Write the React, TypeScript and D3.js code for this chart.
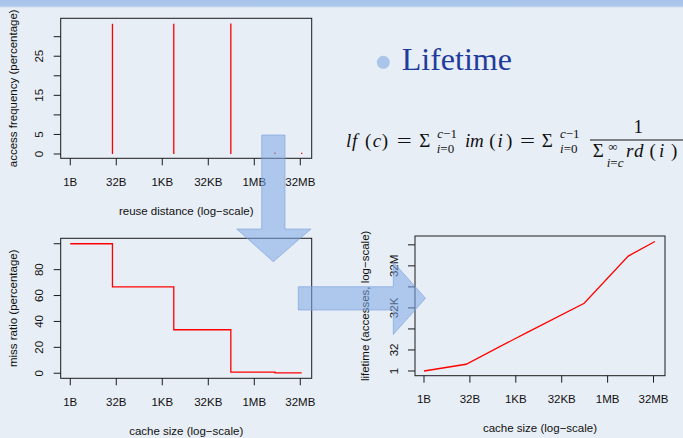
import React from "react";
import * as d3 from "d3";

// ---------- data ----------
const sizeTicks = [1, 32, 1024, 32768, 1048576, 33554432];
const sizeTickLabels = ["1B", "32B", "1KB", "32KB", "1MB", "32MB"];

const reuseDistances = [24, 2435, 179000, 4980000, 37300000];
const accessFreq = [33.3, 33.3, 33.4, 0.4, 0.3];
const freqTicks = [0, 5, 10, 15, 20, 25, 30];
const freqTickLabels = ["0", "5", "", "15", "", "25", ""];

const cacheSizes = [1, 24, 2435, 179000, 4980000, 37300000];
const missRatio = [100, 66.7, 33.6, 0.8, 0.3, 0.3];
const missTicks = [0, 20, 40, 60, 80, 100];
const missTickLabels = ["0", "20", "40", "60", "80", ""];

const lifetime = [1, 3.03, 588, 70200, 1.68e8, 1.87e9];
const lifeTicks = [1, 32, 1024, 32768, 1048576, 33554432, 1073741824];
const lifeTickLabels = ["1", "32", "", "32K", "", "32M", ""];

// ---------- style ----------
const BG = "#e8eef6";
const AXIS_FONT = "'Liberation Sans', Arial, Helvetica, sans-serif";
const SERIF = "'Liberation Serif', 'Times New Roman', serif";
const FS = 11.5;

type Box = { l: number; t: number; r: number; b: number };

function Panel(props: {
  box: Box;
  x: d3.ScaleLogarithmic<number, number>;
  y: any;
  yTicks: number[];
  yTickLabels: string[];
  xLabel: string;
  yLabel: string;
  yLabelOff: number;
  children?: React.ReactNode;
}) {
  const { box, x, y, yTicks, yTickLabels, xLabel, yLabel, yLabelOff } = props;
  const tick = 7;
  const cx = (box.l + box.r) / 2;
  const cy = (box.t + box.b) / 2;
  return (
    <g>
      {props.children}
      <rect x={box.l} y={box.t} width={box.r - box.l} height={box.b - box.t} fill="none" stroke="#1a1a1a" strokeWidth={1} />
      {sizeTicks.map((v, i) => (
        <g key={"x" + i}>
          <line x1={x(v)} x2={x(v)} y1={box.b} y2={box.b + tick} stroke="#1a1a1a" strokeWidth={1} />
          <text x={x(v)} y={box.b + 23.5} dy="0.35em" textAnchor="middle" fontFamily={AXIS_FONT} fontSize={FS} fill="#111">
            {sizeTickLabels[i]}
          </text>
        </g>
      ))}
      {yTicks.map((v, i) => (
        <g key={"y" + i}>
          <line x1={box.l - tick} x2={box.l} y1={y(v)} y2={y(v)} stroke="#1a1a1a" strokeWidth={1} />
          {yTickLabels[i] && (
            <text
              transform={`translate(${box.l - 21.5},${y(v)}) rotate(-90)`}
              dy="0.35em"
              textAnchor="middle"
              fontFamily={AXIS_FONT}
              fontSize={FS}
              fill="#111"
            >
              {yTickLabels[i]}
            </text>
          )}
        </g>
      ))}
      <text x={cx} y={box.b + 52.4} dy="0.35em" textAnchor="middle" fontFamily={AXIS_FONT} fontSize={FS} fill="#111">
        {xLabel}
      </text>
      <text
        transform={`translate(${box.l - yLabelOff},${cy}) rotate(-90)`}
        dy="0.35em"
        textAnchor="middle"
        fontFamily={AXIS_FONT}
        fontSize={FS}
        fill="#111"
      >
        {yLabel}
      </text>
    </g>
  );
}

export default function App() {
  // panel 1: access frequency
  const b1: Box = { l: 60.7, t: 18.3, r: 311.7, b: 158.3 };
  const x1 = d3.scaleLog().base(2).domain([2 ** -1.04, 2 ** 26.24]).range([b1.l, b1.r]);
  const y1 = d3.scaleLinear().domain([-1.1, 34.7]).range([b1.b, b1.t]);

  // panel 2: miss ratio
  const b2: Box = { l: 60.7, t: 238.3, r: 311.7, b: 378.3 };
  const x2 = d3.scaleLog().base(2).domain([2 ** -1.04, 2 ** 26.24]).range([b2.l, b2.r]);
  const y2 = d3.scaleLinear().domain([-3.9, 104.2]).range([b2.b, b2.t]);
  const missLine = d3
    .line<number>()
    .x((_, i) => x2(cacheSizes[i]))
    .y((d) => y2(d))
    .curve(d3.curveStepAfter)(missRatio) as string;

  // panel 3: lifetime
  const b3: Box = { l: 415, t: 236, r: 665, b: 375.7 };
  const x3 = d3.scaleLog().base(2).domain([2 ** -0.98, 2 ** 26.25]).range([b3.l, b3.r]);
  const y3 = d3.scaleLog().base(2).domain([2 ** -1.12, 2 ** 32.1]).range([b3.b, b3.t]);
  const lifeLine = d3
    .line<number>()
    .x((_, i) => x3(cacheSizes[i]))
    .y((d) => y3(d))(lifetime) as string;

  const arrowFill = "rgb(125,168,228)";
  const arrowDown = "261.7,135 285,135 285,229 311,229 273.3,261.7 236.7,229 261.7,229";
  const arrowRight = "298.3,286.7 393.3,286.7 393.3,262 425.5,298.3 393.3,334.5 393.3,310 298.3,310";

  const mainY = 147;
  const supY = 138;
  const subY = 152.7;
  const MF = 19;
  const SF = 13;

  return (
    <svg width={683} height={438} style={{ position: "fixed", left: 0, top: 0, background: BG }}>
      <defs>
        <linearGradient id="band" x1="0" y1="0" x2="0" y2="1">
          <stop offset="0" stopColor="#a6c3ea" />
          <stop offset="0.75" stopColor="#adc8ec" />
          <stop offset="1" stopColor="#adc8ec" stopOpacity={0} />
        </linearGradient>
      </defs>
      <rect x={0} y={0} width={683} height={438} fill={BG} />
      <rect x={0} y={0} width={683} height={8} fill="url(#band)" />

      <Panel box={b1} x={x1} y={y1} yTicks={freqTicks} yTickLabels={freqTickLabels}
        xLabel="reuse distance (log−scale)" yLabel="access frequency (percentage)" yLabelOff={47.5}>
        {reuseDistances.map((d, i) => (
          <line key={i} x1={x1(d)} x2={x1(d)} y1={y1(0)} y2={y1(accessFreq[i])} stroke="#ff0000" strokeWidth={1.3} />
        ))}
      </Panel>

      <Panel box={b2} x={x2} y={y2} yTicks={missTicks} yTickLabels={missTickLabels}
        xLabel="cache size (log−scale)" yLabel="miss ratio (percentage)" yLabelOff={47.5}>
        <path d={missLine} fill="none" stroke="#ff0000" strokeWidth={1.3} />
      </Panel>

      <Panel box={b3} x={x3} y={y3} yTicks={lifeTicks} yTickLabels={lifeTickLabels}
        xLabel="cache size (log−scale)" yLabel="lifetime (accesses, log−scale)" yLabelOff={50}>
        <path d={lifeLine} fill="none" stroke="#ff0000" strokeWidth={1.3} />
      </Panel>

      {/* title */}
      <circle cx={383.3} cy={62.3} r={6.5} fill="#a9c5ea" />
      <text x={401.7} y={70} fontFamily={SERIF} fontSize={32} fill="#1f3c9c">Lifetime</text>

      {/* formula */}
      <g fontFamily={SERIF} fill="#111">
        <text x={346} y={mainY} fontSize={MF} fontStyle="italic">l</text>
        <text x={352} y={mainY} fontSize={MF} fontStyle="italic">f</text>
        <text x={365} y={mainY} fontSize={MF}>(</text>
        <text x={372.7} y={mainY} fontSize={MF} fontStyle="italic">c</text>
        <text x={381.7} y={mainY} fontSize={MF}>)</text>
        <text x={396.7} y={mainY} fontSize={MF} textLength={15} lengthAdjust="spacingAndGlyphs">=</text>
        <text x={419.3} y={mainY} fontSize={MF}>Σ</text>
        <text x={437.3} y={supY} fontSize={SF}><tspan fontStyle="italic">c</tspan>−1</text>
        <text x={436.7} y={subY} fontSize={SF}><tspan fontStyle="italic">i</tspan>=0</text>
        <text x={465} y={mainY} fontSize={MF} fontStyle="italic">i</text>
        <text x={470} y={mainY} fontSize={MF} fontStyle="italic">m</text>
        <text x={489.3} y={mainY} fontSize={MF}>(</text>
        <text x={497.5} y={mainY} fontSize={MF} fontStyle="italic">i</text>
        <text x={506} y={mainY} fontSize={MF}>)</text>
        <text x={520} y={mainY} fontSize={MF} textLength={15} lengthAdjust="spacingAndGlyphs">=</text>
        <text x={541.7} y={mainY} fontSize={MF}>Σ</text>
        <text x={560} y={supY} fontSize={SF}><tspan fontStyle="italic">c</tspan>−1</text>
        <text x={560} y={subY} fontSize={SF}><tspan fontStyle="italic">i</tspan>=0</text>
        <text x={638.3} y={132.7} fontSize={MF} textAnchor="middle">1</text>
        <line x1={590} x2={690} y1={140} y2={140} stroke="#111" strokeWidth={1} />
        <text x={592.7} y={156.5} fontSize={MF}>Σ</text>
        <text x={608.3} y={150.5} fontSize={SF}>∞</text>
        <text x={606.7} y={166.5} fontSize={SF}><tspan fontStyle="italic">i</tspan>=<tspan fontStyle="italic">c</tspan></text>
        <text x={626} y={156.5} fontSize={MF} fontStyle="italic">r</text>
        <text x={634} y={156.5} fontSize={MF} fontStyle="italic">d</text>
        <text x={649.5} y={156.5} fontSize={MF}>(</text>
        <text x={659} y={156.5} fontSize={MF} fontStyle="italic">i</text>
        <text x={671} y={156.5} fontSize={MF}>)</text>
      </g>

      {/* arrows */}
      <polygon points={arrowDown} fill={arrowFill} fillOpacity={0.55} stroke="rgb(120,160,220)" strokeOpacity={0.6} strokeWidth={1} />
      <polygon points={arrowRight} fill={arrowFill} fillOpacity={0.55} stroke="rgb(120,160,220)" strokeOpacity={0.6} strokeWidth={1} />
    </svg>
  );
}
